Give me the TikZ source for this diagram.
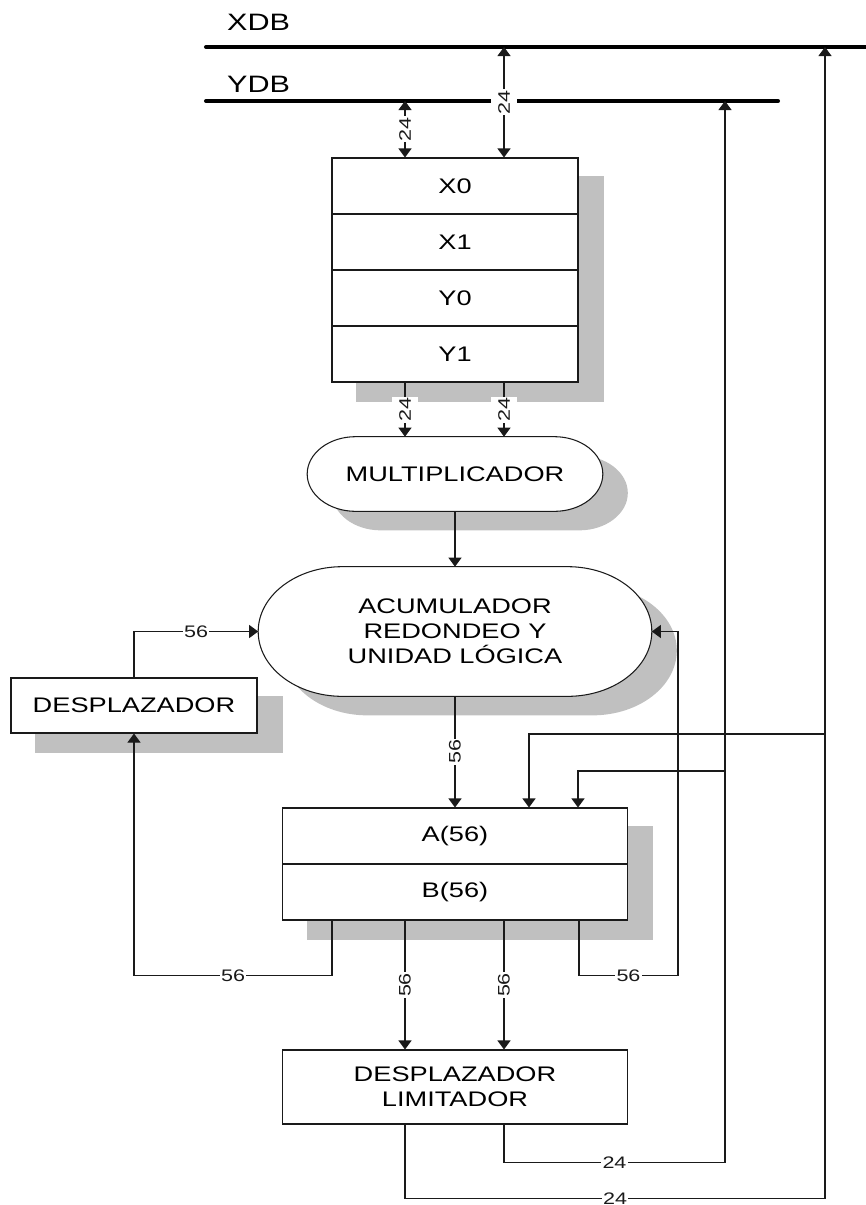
\documentclass[tikz,border=0pt]{standalone}
\usepackage{fontspec}
\setmainfont{Liberation Sans}[FakeStretch=1.29]
\usepackage{tikz}
\usetikzlibrary{calc,positioning,backgrounds,arrows.meta}
\definecolor{gris}{HTML}{C0C0C0}
\definecolor{trazo}{HTML}{1A1A1A}
\def\maulinea{trazo}
% capsula con extremos elipticos
\newcommand\capsula[2][]{\path[#1] let \p1=(#2.north west),\p2=(#2.south east),\n1={(\y1-\y2)/2},\n2={1.3*\n1} in
	(\x1+\n2,\y1)--(\x2-\n2,\y1) arc[start angle=90,end angle=-90,x radius=\n2,y radius=\n1]--
	(\x1+\n2,\y2) arc[start angle=270,end angle=90,x radius=\n2,y radius=\n1]--cycle;}

\begin{document}
\begin{tikzpicture}[x=.02cm,y=-.02cm,font=\fontsize{12}{14.2}\selectfont,declare function={dx=25;dy=19;}]
		\tikzstyle{caja} = [draw=\maulinea,fill=white,line width=.6pt,inner sep=0pt,align=center]
		\tikzstyle{registro} = [caja,minimum width=4.92cm,minimum height=1.12cm]
		\tikzstyle{acum} = [caja,minimum width=6.9cm,minimum height=1.12cm]
		\tikzstyle{pildora} = [inner sep=0pt,align=center]
		\tikzstyle{linea} = [line width=.6pt,\maulinea]
		\tikzstyle{flecha} = [linea,-{Triangle[length=.18cm,width=.26cm]}]
		\tikzstyle{dobleflecha} = [linea,{Triangle[length=.18cm,width=.26cm]}-{Triangle[length=.18cm,width=.26cm]}]
		\tikzstyle{bus} = [line width=2.3pt,line cap=round,black]
		\tikzstyle{etiq} = [fill=white,inner xsep=.6pt,inner ysep=4pt,font=\fontsize{9.5}{11}\selectfont]
		\useasboundingbox (0,0) rectangle (866,1205);
		% buses
		\node[anchor=west,font=\fontsize{13.5}{16}\selectfont] (xdb) at (221,22) {XDB};
		\node[anchor=west,font=\fontsize{13.5}{16}\selectfont] (ydb) at (221,84) {YDB};
		\coordinate (xdbI) at (206,47);
		\coordinate (xdbD) at (880,47);
		\coordinate (ydbI) at (206,101);
		\coordinate (ydbD) at (778,101);
		\draw[bus] (xdbI)--(xdbD);
		\draw[bus] (ydbI)--(ydbD);
		\coordinate (px) at (504,47);
		\coordinate (py) at (405,101);
		\coordinate (pxd) at (825,47);
		\coordinate (pyd) at (725,101);
		% bloques
		\foreach \nombre/\texto [count=\i] in {x0/X0,x1/X1,y0/Y0,y1/Y1}
		\node[registro] (\nombre) at (455,130+56*\i) {\texto};
		\node[pildora,minimum width=5.9cm,minimum height=1.48cm] (mult) at (455,474) {MULTIPLICADOR};
		\node[pildora,minimum width=7.86cm,minimum height=2.58cm] (acu) at (455,631.5) {ACUMULADOR\\REDONDEO Y\\UNIDAD LÓGICA};
		\node[caja,minimum width=4.92cm,minimum height=1.1cm] (desp) at (134,705.5) {DESPLAZADOR};
		\node[acum] (a) at (455,836) {A(56)};
		\node[acum] (b) at (455,892) {B(56)};
		\node[caja,minimum width=6.9cm,minimum height=1.48cm] (lim) at (455,1087) {DESPLAZADOR\\LIMITADOR};
		\begin{scope}[on background layer]
			\fill[gris] ($(x0.north west)+(dx,dy)$) rectangle ($(y1.south east)+(dx,dy)$);
			\fill[gris] ($(desp.north west)+(dx,dy)$) rectangle ($(desp.south east)+(dx,dy)$);
			\fill[gris] ($(a.north west)+(dx,dy)$) rectangle ($(b.south east)+(dx,dy)$);
			\capsula[fill=gris,transform canvas={shift={(.5cm,-.38cm)}}]{mult}
			\capsula[fill=gris,transform canvas={shift={(.5cm,-.38cm)}}]{acu}
			\capsula[draw=\maulinea,fill=white,line width=.6pt]{mult}
			\capsula[draw=\maulinea,fill=white,line width=.6pt]{acu}
		\end{scope}
		% conexiones
		\draw[dobleflecha] (px)--(px |- x0.north) node[etiq,rotate=90,midway] {24};
		\draw[dobleflecha] (py)--(py |- x0.north) node[etiq,rotate=90,midway] {24};
		\draw[flecha] (py |- y1.south)--(py |- mult.north) node[etiq,rotate=90,midway] {24};
		\draw[flecha] (px |- y1.south)--(px |- mult.north) node[etiq,rotate=90,midway] {24};
		\draw[flecha] (mult.south)--(acu.north);
		\draw[flecha] (desp.north) |- (acu.west) node[etiq,pos=.75] {56};
		\draw[flecha] (acu.south)--(a.north) node[etiq,rotate=90,midway] {56};
		\coordinate (ramX) at (825,734);
		\coordinate (ramY) at (725,771);
		\draw[flecha] (ramX) -| ($(a.north)+(74,0)$);
		\draw[flecha] (ramY) -| ($(a.north)+(123,0)$);
		\coordinate (bIzq) at ($(b.south west)+(50,0)$);
		\coordinate (bDer) at ($(b.south east)+(-49,0)$);
		\draw[flecha] (bIzq)--++(0,55) -| (desp.south) node[etiq,pos=.25] {56};
		\draw[flecha] (bDer)--++(0,55)--++(99,0) node[etiq,midway] {56} |- (acu.east);
		\draw[flecha] (py |- b.south)--(py |- lim.north) node[etiq,rotate=90,midway] {56};
		\draw[flecha] (px |- b.south)--(px |- lim.north) node[etiq,rotate=90,midway] {56};
		\draw[flecha] (px |- lim.south)--++(0,38) -| (pyd) node[etiq,pos=.25] {24};
		\draw[flecha] (py |- lim.south)--++(0,74) -| (pxd) node[etiq,pos=.25] {24};
\end{tikzpicture}
\end{document}
